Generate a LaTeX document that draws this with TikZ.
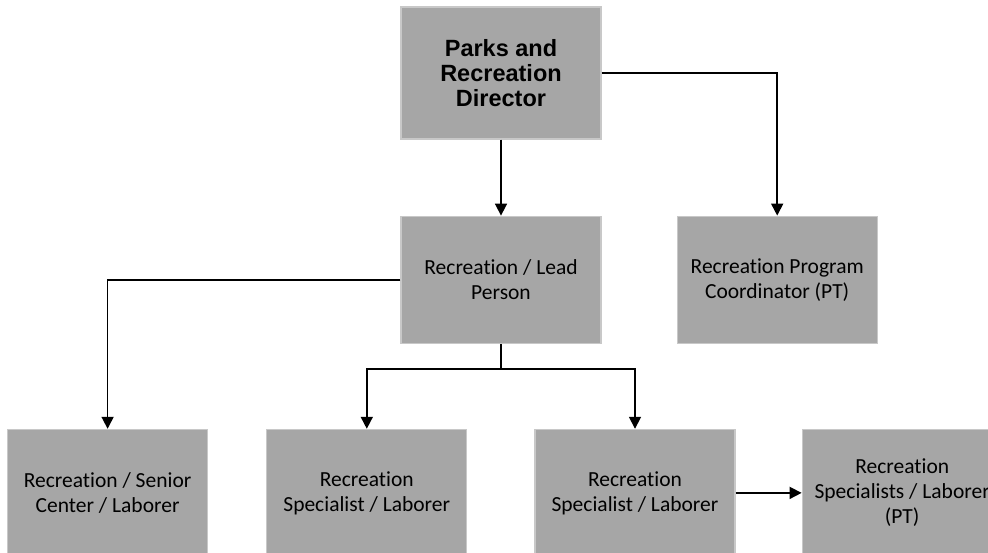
\documentclass[tikz,border=0pt]{standalone}
\usepackage{fontspec}
\setmainfont{Carlito}[Ligatures=NoCommon]
\newfontfamily\headfont{Liberation Sans}
\usepackage{tikz}
\usetikzlibrary{arrows.meta,positioning}
\definecolor{boxgray}{HTML}{A6A6A6}
\definecolor{edgegray}{HTML}{C8C8C8}

\begin{document}
\begin{tikzpicture}[
  x=1pt, y=1pt,
  box/.style={draw=edgegray, line width=1.2pt, fill=boxgray, align=center, inner sep=0pt,
    minimum width=200pt, minimum height=127pt, font=\fontsize{21.5}{25}\selectfont},
  head/.style={box, minimum height=132pt, font=\headfont\bfseries\fontsize{23.5}{25}\selectfont},
  arrow/.style={-{Triangle[length=12pt,width=12pt]}, line width=1.7pt},
  link/.style={line width=1.7pt}
]
\useasboundingbox (0,0) rectangle (988,552);
\node[head] (dir) at (501,479) {Parks and\\Recreation\\Director};
\node[box, below=76pt of dir] (lead) {Recreation / Lead\\Person};
\node[box, right=75pt of lead] (coord) {Recreation Program\\Coordinator (PT)};
\node[box, below=85pt of lead, xshift=134pt] (spec2) {Recreation\\Specialist / Laborer};
\node[box, left=67pt of spec2] (spec1) {Recreation\\Specialist / Laborer};
\node[box, left=58pt of spec1] (senior) {Recreation / Senior\\Center / Laborer};
\node[box, right=66pt of spec2] (parttime) {Recreation\\Specialists / Laborer\\(PT)};
\draw[arrow] (dir) -- (lead);
\draw[arrow] (dir.east) -| (coord.north);
\draw[arrow] (lead.west) -| (senior.north);
\draw[link] (lead.south) -- ++(0,-25) coordinate (fork);
\draw[arrow] (fork) -| (spec1.north);
\draw[arrow] (fork) -| (spec2.north);
\draw[arrow] (spec2) -- (parttime);
\end{tikzpicture}
\end{document}
